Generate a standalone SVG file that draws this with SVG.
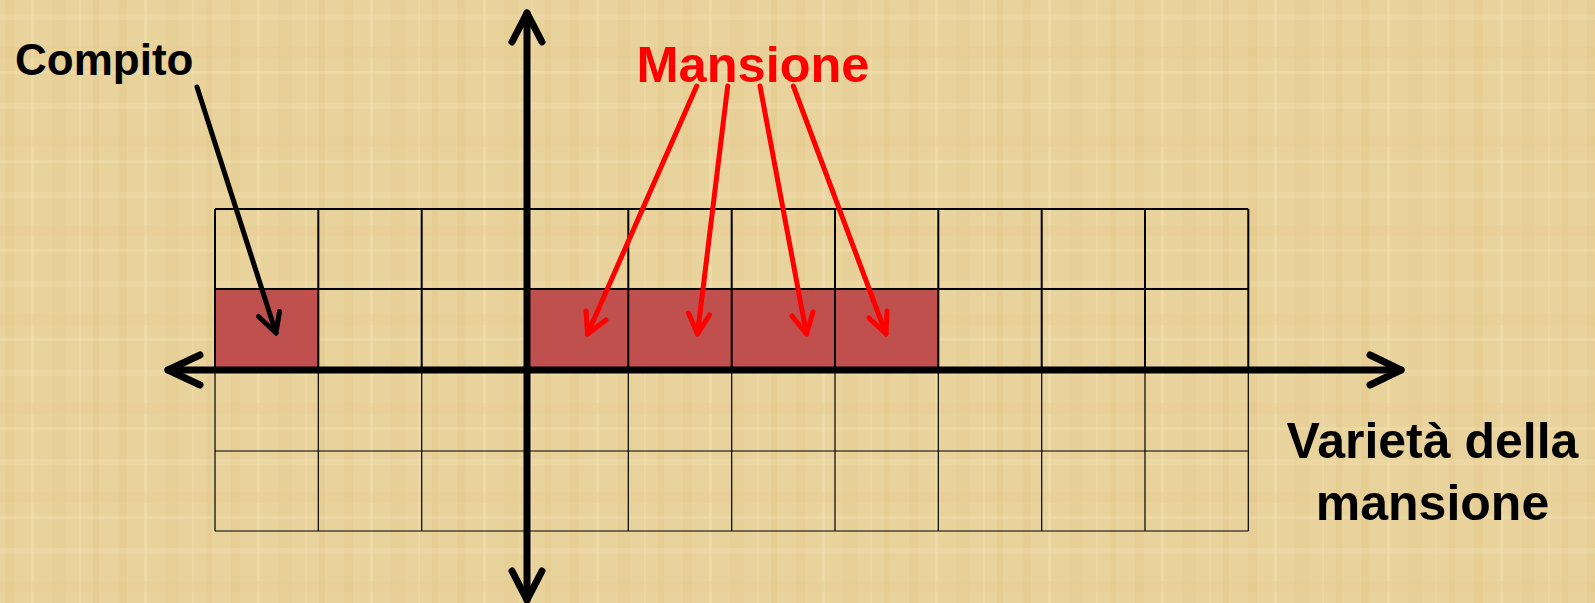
<svg xmlns="http://www.w3.org/2000/svg" width="1595" height="603" viewBox="0 0 1595 603">
<style>
.lbl{font-family:"Liberation Sans",Arial,sans-serif;font-weight:bold}
.g2{stroke:#000;stroke-width:2;fill:none}
.g1{stroke:#000;stroke-width:1.2;fill:none}
.cell{fill:#C0504D}
.ax{stroke:#000;stroke-width:7;fill:none;stroke-linecap:round;stroke-linejoin:round}
.ra{stroke:#FF0000;stroke-width:5;fill:none;stroke-linecap:round;stroke-linejoin:round}
.ka{stroke:#000;stroke-width:5;fill:none;stroke-linecap:round;stroke-linejoin:round}
</style>
<defs>
<pattern id="tex" width="113" height="89" patternUnits="userSpaceOnUse">
<rect width="113" height="89" fill="#E9D39D"/>
<rect x="5" width="9" height="89" fill="#E0C583" opacity="0.35"/>
<rect x="31" width="3" height="89" fill="#F3E2B3" opacity="0.45"/>
<rect x="52" width="14" height="89" fill="#E4CA8C" opacity="0.3"/>
<rect x="79" width="2" height="89" fill="#F1DEAE" opacity="0.5"/>
<rect x="93" width="6" height="89" fill="#DDC07E" opacity="0.3"/>
<rect y="14" width="113" height="6" fill="#F2E1B4" opacity="0.3"/>
<rect y="47" width="113" height="11" fill="#E3C888" opacity="0.25"/>
<rect y="71" width="113" height="3" fill="#F4E4B8" opacity="0.35"/>
</pattern>
</defs>
<rect width="1595" height="603" fill="url(#tex)"/>

<g id="cells">
<rect class="cell" x="215" y="289" width="103.3" height="81"/>
<rect class="cell" x="525" y="289" width="413.3" height="81"/>
</g>

<g id="grid">
<path class="g2" d="M215 209H1248.3M215 289H1248.3"/>
<path class="g2" d="M215 209V370M318.3 209V370M421.7 209V370M525 209V370M628.3 209V370M731.7 209V370M835 209V370M938.3 209V370M1041.7 209V370M1145 209V370M1248.3 209V370"/>
<path class="g1" d="M215 451H1248.3M215 531H1248.3"/>
<path class="g1" d="M215 370V531M318.3 370V531M421.7 370V531M525 370V531M628.3 370V531M731.7 370V531M835 370V531M938.3 370V531M1041.7 370V531M1145 370V531M1248.3 370V531"/>
</g>

<g id="axes">
<path class="ax" d="M168 370H1401"/>
<path class="ax" d="M200 355L168 370L200 385"/>
<path class="ax" d="M1370 355L1401 370L1370 385"/>
<path class="ax" d="M527 13V600"/>
<path class="ax" d="M512 42L527 13L542 42"/>
<path class="ax" d="M512 571L527 600L542 571"/>
</g>

<g id="compito">
<text class="lbl" x="15" y="75" font-size="44" fill="#000">Compito</text>
</g>
<g id="mansione">
<text class="lbl" x="753" y="81.5" font-size="50.5" fill="#FF0000" text-anchor="middle">Mansione</text>
</g>
<g id="varieta">
<text class="lbl" x="1432.5" y="457.5" font-size="50" fill="#000" text-anchor="middle">Varietà della</text>
<text class="lbl" x="1432.5" y="519.5" font-size="50" fill="#000" text-anchor="middle">mansione</text>
</g>

<g id="connectors">
<path class="ka" d="M197 87L276 333"/>
<path class="ka" d="M258.5 316.5L276 333L279.5 311.5"/>
<path class="ra" d="M696.7 86L587.5 334"/>
<path class="ra" d="M586 311L587.5 334L606 320"/>
<path class="ra" d="M727.7 86L697.5 334"/>
<path class="ra" d="M688.5 313L697.5 334L709.5 315"/>
<path class="ra" d="M760 86L806.5 334"/>
<path class="ra" d="M792 316L806.5 334L813 312"/>
<path class="ra" d="M793.3 86L886 334"/>
<path class="ra" d="M869 318L886 334L887 311"/>
</g>
</svg>
